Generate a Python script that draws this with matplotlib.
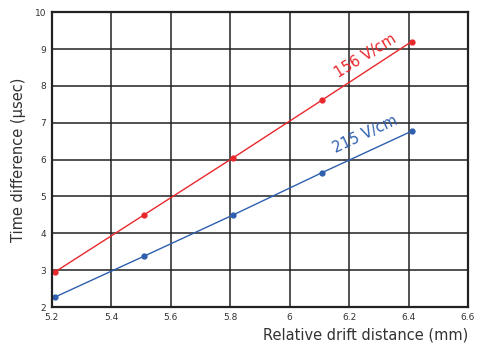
import matplotlib
matplotlib.use("Agg")
import matplotlib.pyplot as plt

# data
distance = [5.21, 5.51, 5.81, 6.11, 6.41]
time_156 = [2.95, 4.5, 6.05, 7.62, 9.2]
time_215 = [2.27, 3.38, 4.5, 5.65, 6.77]
xticks = [5.2, 5.4, 5.6, 5.8, 6.0, 6.2, 6.4, 6.6]
xticklabels = ["5.2", "5.4", "5.6", "5.8", "6", "6.2", "6.4", "6.6"]
yticks = [2, 3, 4, 5, 6, 7, 8, 9, 10]

red = "#e8282c"
blue = "#2d5fae"

fig = plt.figure(figsize=(4.84, 3.47), dpi=100)
ax = fig.add_axes([0.107, 0.115, 0.86, 0.85])

ax.plot(distance, time_156, color=red, lw=1.0, marker="o", ms=3.5)
ax.plot(distance, time_215, color=blue, lw=1.0, marker="o", ms=3.5)

ax.set_xlim(5.2, 6.6)
ax.set_ylim(2, 10)
ax.set_xticks(xticks)
ax.set_xticklabels(xticklabels)
ax.set_yticks(yticks)
ax.grid(True, color="#222222", lw=1.1)
ax.set_axisbelow(True)
for s in ax.spines.values():
    s.set_color("#222222")
    s.set_linewidth(1.6)
ax.tick_params(length=0, labelsize=6.5, labelcolor="#333333", pad=4)

ax.text(6.255, 8.8, "156 V/cm", color=red, fontsize=10.5, rotation=32,
        ha="center", va="center", rotation_mode="anchor")
ax.text(6.255, 6.68, "215 V/cm", color=blue, fontsize=10.5, rotation=25,
        ha="center", va="center", rotation_mode="anchor")

ax.set_ylabel("Time difference (µsec)", fontsize=10.5, color="#333333", labelpad=6)
ax.set_xlabel("Relative drift distance (mm)", fontsize=10.5, color="#333333",
              loc="right", labelpad=4)

fig.savefig("out.png", dpi=100)
